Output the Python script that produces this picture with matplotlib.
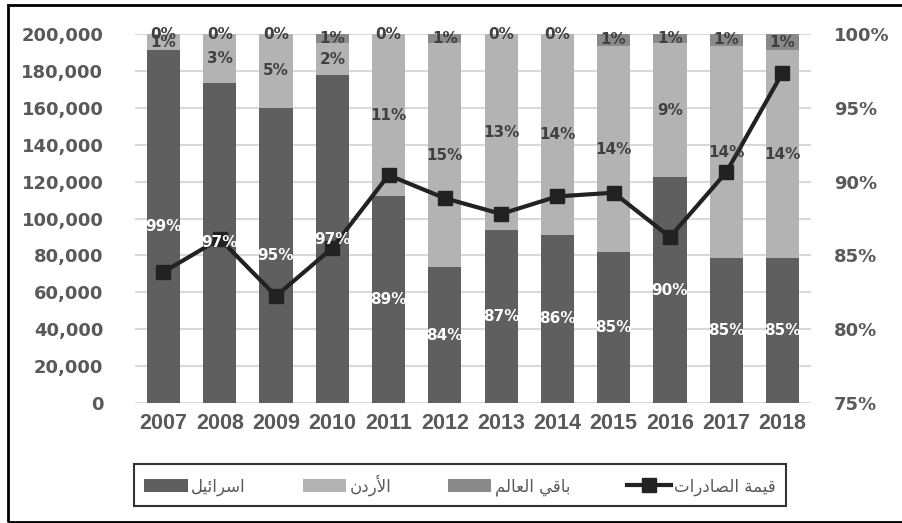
import numpy as np
import matplotlib
matplotlib.use("Agg")
import matplotlib.pyplot as plt
from matplotlib.patches import Rectangle, Patch
from matplotlib.lines import Line2D
from matplotlib.ticker import MultipleLocator, FuncFormatter

# -----------------------------
# Data
# -----------------------------
years = ["2007", "2008", "2009", "2010", "2011", "2012",
         "2013", "2014", "2015", "2016", "2017", "2018"]

israel = [98.9, 96.7, 95.0, 97.2, 89.0, 84.2, 86.7, 86.4, 85.2, 90.3, 84.8, 84.8]
jordan = [1.1, 3.3, 5.0, 2.2, 11.0, 15.2, 13.3, 13.6, 14.0, 9.1, 14.4, 14.1]
rest = [0.0, 0.0, 0.0, 0.6, 0.0, 0.6, 0.0, 0.0, 0.8, 0.6, 0.8, 1.1]

exports = [71000, 89000, 58000, 84000, 123500, 111000,
           102500, 112000, 114000, 90000, 125000, 179000]

label_israel = "اسرائيل"
label_jordan = "الأردن"
label_rest = "باقي العالم"
label_exports = "قيمة الصادرات"

# -----------------------------
# Minimal Arabic shaping (matplotlib has no text shaping)
# forms: isolated, final, initial, medial
# -----------------------------
AR_FORMS = {
    "ا": ("\uFE8D", "\uFE8E", None, None),
    "أ": ("\uFE83", "\uFE84", None, None),
    "ب": ("\uFE8F", "\uFE90", "\uFE91", "\uFE92"),
    "ة": ("\uFE93", "\uFE94", None, None),
    "ت": ("\uFE95", "\uFE96", "\uFE97", "\uFE98"),
    "د": ("\uFEA9", "\uFEAA", None, None),
    "ر": ("\uFEAD", "\uFEAE", None, None),
    "س": ("\uFEB1", "\uFEB2", "\uFEB3", "\uFEB4"),
    "ص": ("\uFEB9", "\uFEBA", "\uFEBB", "\uFEBC"),
    "ع": ("\uFEC9", "\uFECA", "\uFECB", "\uFECC"),
    "ق": ("\uFED5", "\uFED6", "\uFED7", "\uFED8"),
    "ل": ("\uFEDD", "\uFEDE", "\uFEDF", "\uFEE0"),
    "م": ("\uFEE1", "\uFEE2", "\uFEE3", "\uFEE4"),
    "ن": ("\uFEE5", "\uFEE6", "\uFEE7", "\uFEE8"),
    "ي": ("\uFEF1", "\uFEF2", "\uFEF3", "\uFEF4"),
    "ئ": ("\uFE89", "\uFE8A", "\uFE8B", "\uFE8C"),
    "\uFEF7": ("\uFEF7", "\uFEF8", None, None),  # lam-alef with hamza
}


def shape_arabic(text):
    text = text.replace("لأ", "\uFEF7")
    out = []
    for i, c in enumerate(text):
        if c not in AR_FORMS:
            out.append(c)
            continue
        forms = AR_FORMS[c]
        prev = text[i - 1] if i > 0 else ""
        nxt = text[i + 1] if i + 1 < len(text) else ""
        prev_joins = prev in AR_FORMS and AR_FORMS[prev][2] is not None
        next_joins = nxt in AR_FORMS and forms[2] is not None
        if prev_joins and next_joins:
            out.append(forms[3])
        elif prev_joins:
            out.append(forms[1])
        elif next_joins:
            out.append(forms[2])
        else:
            out.append(forms[0])
    return "".join(out)[::-1]


# -----------------------------
# Style
# -----------------------------
c_israel = "#5f5f5f"
c_jordan = "#b3b3b3"
c_rest = "#8a8a8a"
c_line = "#222222"
c_text = "#595959"
c_label = "#404040"

plt.rcParams["font.family"] = ["DejaVu Sans"]

fig = plt.figure(figsize=(9.02, 5.23), dpi=100)
ax = fig.add_axes([0.150, 0.2294, 0.7487, 0.7055])
ax2 = ax.twinx()

x = np.arange(len(years))
w = 0.59

ax.bar(x, israel, w, color=c_israel, zorder=2)
ax.bar(x, jordan, w, bottom=israel, color=c_jordan, zorder=2)
top_j = [a + b for a, b in zip(israel, jordan)]
ax.bar(x, rest, w, bottom=top_j, color=c_rest, zorder=2)

ax.set_ylim(75, 100)
ax.set_xlim(-0.5, len(years) - 0.5)
ax.yaxis.set_major_locator(MultipleLocator(5))
ax.yaxis.set_minor_locator(MultipleLocator(2.5))
ax.yaxis.set_major_formatter(FuncFormatter(lambda v, p: f"{v:.0f}%"))
ax.grid(axis="y", which="both", color="#d9d9d9", linewidth=1.5, zorder=0)
ax.set_axisbelow(True)
ax.yaxis.tick_right()
ax.tick_params(axis="y", which="both", length=0, pad=17, labelsize=13,
               labelcolor=c_text)
for lab in ax.get_yticklabels():
    lab.set_fontweight("bold")
ax.set_xticks(x)
ax.set_xticklabels(years, fontsize=15.5, fontweight="bold", color=c_text,
                   family=["Liberation Sans", "DejaVu Sans"])
ax.tick_params(axis="x", length=0, pad=7)

# export value line on the left axis
ax2.plot(x, exports, color=c_line, linewidth=3, marker="s", markersize=10,
         zorder=3)
ax2.set_ylim(0, 200000)
ax2.yaxis.set_major_locator(MultipleLocator(20000))
ax2.yaxis.set_major_formatter(FuncFormatter(lambda v, p: f"{v:,.0f}"))
ax2.yaxis.tick_left()
ax2.tick_params(axis="y", length=0, pad=23, labelsize=13, labelcolor=c_text)
for lab in ax2.get_yticklabels():
    lab.set_fontweight("bold")

# segment labels, drawn above the line (as in the reference)
for i in range(len(years)):
    ax2.text(x[i], (75 + israel[i]) / 2, f"{israel[i]:.0f}%", ha="center",
             va="center", color="white", fontsize=11, fontweight="bold",
             transform=ax.transData, zorder=8)
    ax2.text(x[i], israel[i] + jordan[i] / 2, f"{jordan[i]:.0f}%", ha="center",
             va="center", color=c_label, fontsize=11, fontweight="bold",
             transform=ax.transData, zorder=8)
    ax2.text(x[i], top_j[i] + rest[i] / 2, f"{rest[i]:.0f}%", ha="center",
             va="center", color=c_label, fontsize=11, fontweight="bold",
             transform=ax.transData, zorder=8)

for a in (ax, ax2):
    for s in a.spines.values():
        s.set_visible(False)

# legend
handles = [
    Patch(facecolor=c_israel, label=shape_arabic(label_israel)),
    Patch(facecolor=c_jordan, label=shape_arabic(label_jordan)),
    Patch(facecolor=c_rest, label=shape_arabic(label_rest)),
    Line2D([0], [0], color=c_line, linewidth=3, marker="s", markersize=10,
           label=shape_arabic(label_exports)),
]
leg = fig.legend(handles=handles, loc="center", ncol=4, mode="expand",
                 bbox_to_anchor=(126 / 902, 15 / 523, 668 / 902, 46 / 523),
                 bbox_transform=fig.transFigure, frameon=True, fancybox=False,
                 fontsize=12, handlelength=2.6, handleheight=0.9,
                 handletextpad=0.2, borderpad=0.6)
leg.get_frame().set_edgecolor("black")
leg.get_frame().set_linewidth(1.5)
for t in leg.get_texts():
    t.set_color(c_text)

# outer chart border
fig.patches.append(Rectangle((8 / 902, 1 / 523), 1.0, 1 - 6 / 523,
                             transform=fig.transFigure, fill=False,
                             edgecolor="black", linewidth=2, zorder=10))

fig.savefig("out.png", dpi=100)
